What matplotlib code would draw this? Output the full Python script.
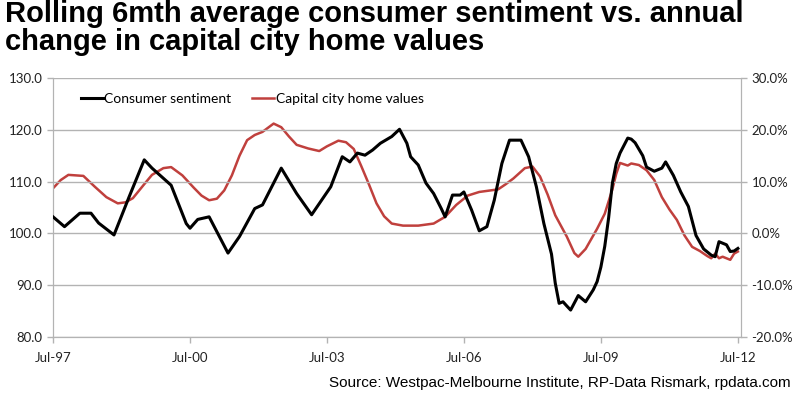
import pandas as pd
import numpy as np
import matplotlib
matplotlib.use("Agg")
import matplotlib.pyplot as plt
from matplotlib.ticker import FuncFormatter

# Consumer sentiment (rolling 6mth avg), left axis
sent_dates = [
    "1997-07", "1997-10", "1998-02", "1998-05", "1998-07", "1998-11", "1999-03",
    "1999-07", "1999-09", "2000-02", "2000-06", "2000-07", "2000-09", "2000-12",
    "2001-05", "2001-08", "2001-12", "2002-02", "2002-07", "2002-11", "2003-03",
    "2003-08", "2003-11", "2004-01", "2004-03", "2004-05", "2004-07", "2004-09",
    "2004-12", "2005-02", "2005-04", "2005-05", "2005-07", "2005-09", "2005-11",
    "2006-01", "2006-02", "2006-04", "2006-06", "2006-07", "2006-09", "2006-11",
    "2007-01", "2007-03", "2007-05", "2007-07", "2007-10", "2007-12", "2008-02",
    "2008-04", "2008-05", "2008-06", "2008-07", "2008-08", "2008-09", "2008-10",
    "2008-11", "2009-01", "2009-03", "2009-05", "2009-06", "2009-07", "2009-08",
    "2009-09", "2009-10", "2009-11", "2009-12", "2010-02", "2010-03", "2010-04",
    "2010-06", "2010-07", "2010-09", "2010-11", "2010-12", "2011-02", "2011-04",
    "2011-06", "2011-08", "2011-10", "2011-12", "2012-01", "2012-02", "2012-04",
    "2012-05", "2012-06", "2012-07",
]
sent_values = [
    103.2, 101.3, 103.9, 103.9, 102.0, 99.7, 107.0,
    114.2, 112.6, 109.3, 101.9, 101.0, 102.7, 103.2,
    96.2, 99.4, 104.8, 105.5, 112.6, 107.7, 103.6,
    109.0, 114.8, 113.8, 115.5, 115.1, 116.1, 117.4,
    118.7, 120.1, 117.4, 114.8, 113.2, 109.7, 107.7,
    104.8, 103.2, 107.4, 107.4, 108.0, 104.5, 100.5,
    101.3, 106.4, 113.5, 118.0, 118.0, 114.8, 109.0,
    101.9, 99.0, 96.0, 90.4, 86.5, 86.8, 86.0,
    85.2, 88.0, 86.8, 89.1, 90.7, 93.5, 97.5,
    103.0, 109.7, 113.5, 115.5, 118.4, 118.2, 117.5,
    115.0, 112.8, 112.0, 112.6, 113.8, 111.2, 108.0,
    105.2, 99.6, 97.0, 95.8, 95.5, 98.4, 97.8,
    96.5, 96.6, 97.1,
]

# Annual change in capital city home values (%), right axis
home_dates = [
    "1997-07", "1997-09", "1997-11", "1998-03", "1998-06", "1998-09", "1998-12",
    "1999-02", "1999-04", "1999-07", "1999-09", "1999-12", "2000-02", "2000-05",
    "2000-08", "2000-10", "2000-12", "2001-02", "2001-04", "2001-06", "2001-08",
    "2001-10", "2001-12", "2002-02", "2002-05", "2002-07", "2002-09", "2002-11",
    "2003-02", "2003-05", "2003-07", "2003-10", "2003-12", "2004-02", "2004-04",
    "2004-06", "2004-08", "2004-10", "2004-12", "2005-03", "2005-07", "2005-11",
    "2006-02", "2006-05", "2006-08", "2006-11", "2007-04", "2007-06", "2007-08",
    "2007-11", "2008-01", "2008-03", "2008-05", "2008-07", "2008-10", "2008-12",
    "2009-01", "2009-03", "2009-06", "2009-08", "2009-10", "2009-11", "2009-12",
    "2010-02", "2010-03", "2010-05", "2010-07", "2010-09", "2010-11", "2011-01",
    "2011-03", "2011-05", "2011-07", "2011-09", "2011-11", "2011-12", "2012-01",
    "2012-02", "2012-03", "2012-05", "2012-06", "2012-07",
]
home_values = [
    8.7, 10.3, 11.3, 11.1, 9.0, 7.0, 5.8,
    6.0, 6.8, 9.5, 11.3, 12.6, 12.8, 11.2,
    8.8, 7.3, 6.4, 6.7, 8.3, 11.2, 15.0,
    18.0, 19.0, 19.6, 21.2, 20.5, 18.7, 17.1,
    16.4, 15.9, 16.8, 17.9, 17.6, 16.3, 13.0,
    9.5, 5.8, 3.3, 1.9, 1.5, 1.5, 1.9,
    3.2, 5.5, 7.3, 8.0, 8.5, 9.5, 10.6,
    12.6, 12.9, 11.0, 7.5, 3.5, -0.6, -3.8,
    -4.5, -3.0, 0.9, 3.8, 8.5, 11.5, 13.6,
    13.1, 13.5, 13.2, 12.2, 10.3, 7.0, 4.6,
    2.6, -0.4, -2.6, -3.4, -4.4, -4.8, -3.9,
    -4.8, -4.5, -5.1, -3.9, -3.5,
]

tick_dates = ["1997-07", "2000-07", "2003-07", "2006-07", "2009-07", "2012-07"]
tick_labels = ["Jul-97", "Jul-00", "Jul-03", "Jul-06", "Jul-09", "Jul-12"]

title = "Rolling 6mth average consumer sentiment vs. annual\nchange in capital city home values"
source = "Source: Westpac-Melbourne Institute, RP-Data Rismark, rpdata.com"

black = "#000000"
red = "#c0403d"
grid_c = "#b3b3b3"

fig = plt.figure(figsize=(8, 3.96), dpi=100, facecolor="white")
ax = fig.add_axes([53 / 800, 59 / 396, 688 / 800, 259 / 396])
ax2 = ax.twinx()

sd = pd.to_datetime(sent_dates)
hd = pd.to_datetime(home_dates)

l1, = ax.plot(sd, sent_values, color=black, lw=2.2, label="Consumer sentiment", zorder=3)
l2, = ax2.plot(hd, home_values, color=red, lw=1.8, label="Capital city home values", zorder=2)
ax.set_zorder(ax2.get_zorder() + 1)
ax.patch.set_visible(False)

ax.set_ylim(80, 130)
ax.set_yticks(np.arange(80, 131, 10))
ax.yaxis.set_major_formatter(FuncFormatter(lambda v, p: f"{v:.1f}"))
ax2.set_ylim(-20, 30)
ax2.set_yticks(np.arange(-20, 31, 10))
ax2.yaxis.set_major_formatter(FuncFormatter(lambda v, p: f"{v:.1f}%"))

ax.set_xlim(pd.Timestamp("1997-07-01"), pd.Timestamp("2012-07-26"))
ax.set_xticks(pd.to_datetime(tick_dates))
ax.set_xticklabels(tick_labels)

for a in (ax, ax2):
    for s in a.spines.values():
        s.set_color(grid_c)
    a.spines["top"].set_visible(False)
    a.tick_params(colors=grid_c, labelcolor="#222222", labelsize=9.5, length=4, width=1)
    for lab in a.get_xticklabels() + a.get_yticklabels():
        lab.set_family("Lato")

ax.grid(axis="y", color=grid_c, lw=1)
ax.set_axisbelow(True)
ax.tick_params(axis="x", pad=7)

leg = ax.legend(handles=[l1, l2], loc="upper left", bbox_to_anchor=(0.022, 0.99),
                ncol=2, frameon=False, handlelength=1.6,
                handletextpad=0.1, columnspacing=1.5, prop={"family": "Lato", "size": 10})

fig.text(0.006, 1.0, title, ha="left", va="top", fontsize=21, fontweight="bold",
         family="Liberation Sans", linespacing=1.0)
fig.text(0.988, 0.015, source, ha="right", va="bottom", fontsize=11,
         family="Liberation Sans")

fig.savefig("out.png", dpi=100)
